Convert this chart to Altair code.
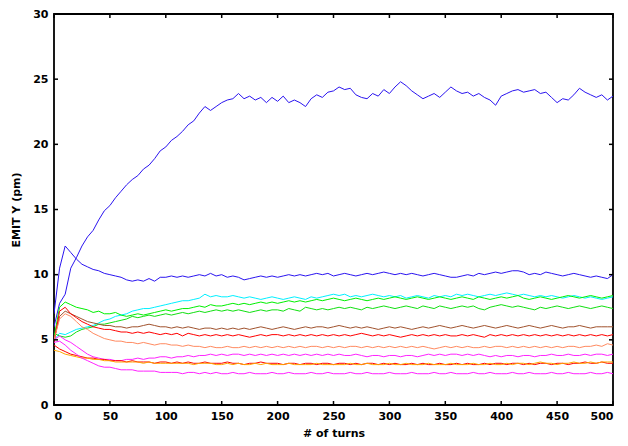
import altair as alt
import pandas as pd

turns = list(range(0, 501, 5))

blue_high = [6.0, 7.8, 8.5, 10.5, 11.3, 12.2, 12.9, 13.4, 14.2, 14.9,
             15.3, 15.9, 16.4, 16.9, 17.3, 17.6, 18.1, 18.4, 18.9, 19.5,
             19.8, 20.3, 20.6, 21.0, 21.5, 21.8, 22.4, 22.9, 22.6, 22.9,
             23.2, 23.4, 23.5, 23.9, 23.5, 23.7, 23.4, 23.6, 23.2, 23.6,
             23.3, 23.7, 23.2, 23.4, 23.2, 22.9, 23.5, 23.8, 23.6, 24.0,
             24.1, 24.4, 24.2, 24.3, 23.8, 23.6, 23.5, 23.9, 23.7, 24.2,
             23.9, 24.4, 24.8, 24.5, 24.1, 23.8, 23.5, 23.7, 23.9, 23.6,
             24.0, 24.4, 24.1, 23.9, 24.0, 23.7, 23.9, 23.6, 23.4, 23.0,
             23.7, 23.9, 24.1, 24.2, 24.0, 24.1, 24.2, 23.9, 24.0, 23.6,
             23.2, 23.5, 23.4, 23.8, 24.3, 24.0, 23.8, 23.6, 23.8, 23.4, 23.7]

blue_low = [7.0, 10.5, 12.2, 11.7, 11.2, 10.8, 10.6, 10.4, 10.3, 10.1,
            10.0, 9.9, 9.8, 9.6, 9.5, 9.6, 9.5, 9.7, 9.5, 9.8,
            9.8, 9.9, 9.8, 9.9, 9.8, 9.9, 10.0, 9.9, 10.1, 9.9,
            10.0, 9.8, 9.9, 9.8, 9.6, 9.7, 9.8, 9.9, 9.8, 9.9,
            9.8, 9.9, 10.0, 9.9, 10.0, 9.9, 10.0, 10.1, 10.0, 10.1,
            9.9, 10.0, 10.1, 10.0, 9.9, 10.0, 10.1, 10.0, 10.1, 10.2,
            10.1, 10.0, 10.1, 10.0, 10.1, 10.0, 9.9, 10.0, 10.1, 10.0,
            9.9, 9.8, 9.8, 9.9, 10.0, 9.9, 10.1, 10.0, 10.1, 10.2,
            10.1, 10.2, 10.3, 10.3, 10.2, 10.0, 10.1, 10.0, 10.2, 10.1,
            10.0, 9.9, 10.0, 10.1, 10.0, 9.9, 9.8, 9.9, 9.8, 9.7, 10.0]

cyan = [5.0, 5.5, 5.4, 5.6, 5.8, 5.9, 6.0, 6.1, 6.3, 6.5,
        6.6, 6.8, 6.9, 7.0, 7.2, 7.3, 7.4, 7.4, 7.5, 7.6,
        7.7, 7.8, 7.9, 8.0, 8.0, 8.1, 8.2, 8.5, 8.3, 8.4,
        8.3, 8.3, 8.4, 8.3, 8.2, 8.3, 8.2, 8.1, 8.2, 8.3,
        8.2, 8.1, 8.2, 8.3, 8.2, 8.1, 8.3, 8.2, 8.3, 8.4,
        8.5, 8.4, 8.5, 8.3, 8.4, 8.3, 8.4, 8.5, 8.4, 8.3,
        8.4, 8.3, 8.4, 8.2, 8.3, 8.4, 8.3, 8.2, 8.4, 8.3,
        8.4, 8.3, 8.5, 8.4, 8.5, 8.4, 8.3, 8.4, 8.5, 8.4,
        8.5, 8.6, 8.5, 8.4, 8.5, 8.4, 8.3, 8.4, 8.3, 8.4,
        8.3, 8.2, 8.3, 8.4, 8.3, 8.2, 8.3, 8.2, 8.1, 8.2, 8.3]

green_a = [5.2, 7.5, 7.9, 7.7, 7.5, 7.4, 7.3, 7.1, 7.2, 7.0,
           7.0, 7.1, 6.9, 6.8, 6.9, 7.0, 6.9, 7.0, 7.1, 7.2,
           7.3, 7.2, 7.3, 7.4, 7.4, 7.5, 7.6, 7.5, 7.7, 7.6,
           7.6, 7.7, 7.8, 7.7, 7.8, 7.7, 7.8, 7.9, 7.8, 7.9,
           7.8, 7.9, 8.0, 7.9, 8.0, 7.9, 8.0, 8.1, 8.0, 8.1,
           8.2, 8.1, 8.0, 8.1, 8.2, 8.1, 8.0, 8.1, 8.2, 8.1,
           8.2, 8.3, 8.2, 8.1, 8.2, 8.3, 8.2, 8.1, 8.2, 8.3,
           8.2, 8.1, 8.2, 8.3, 8.2, 8.1, 8.3, 8.2, 8.1, 8.2,
           8.3, 8.2, 8.3, 8.4, 8.2, 8.1, 8.2, 8.3, 8.2, 8.1,
           8.2, 8.3, 8.4, 8.3, 8.2, 8.3, 8.4, 8.3, 8.2, 8.3, 8.4]

green_b = [5.5, 5.3, 5.2, 5.3, 5.6, 5.8, 5.9, 6.0, 6.2, 6.2,
           6.3, 6.4, 6.5, 6.6, 6.8, 6.7, 6.8, 6.9, 6.8, 6.9,
           7.0, 6.9, 7.0, 7.1, 7.0, 7.1, 7.2, 7.1, 7.2, 7.3,
           7.2, 7.3, 7.2, 7.3, 7.2, 7.1, 7.2, 7.3, 7.2, 7.3,
           7.3, 7.2, 7.4, 7.3, 7.2, 7.5, 7.4, 7.3, 7.4, 7.3,
           7.4, 7.5, 7.4, 7.5, 7.4, 7.3, 7.5, 7.4, 7.5, 7.6,
           7.5, 7.4, 7.5, 7.6, 7.5, 7.4, 7.6, 7.5, 7.4, 7.6,
           7.5, 7.4, 7.5, 7.6, 7.5, 7.6, 7.4, 7.3, 7.5, 7.6,
           7.7, 7.6, 7.5, 7.6, 7.5, 7.4, 7.3, 7.5, 7.4, 7.5,
           7.6, 7.5, 7.4, 7.5, 7.6, 7.5, 7.4, 7.5, 7.6, 7.5, 7.4]

brown = [5.0, 6.8, 7.2, 7.0, 6.8, 6.6, 6.4, 6.3, 6.2, 6.1,
         6.1, 6.0, 6.0, 5.9, 6.0, 6.0, 6.1, 6.2, 6.1, 6.0,
         6.0, 5.9, 6.0, 5.9, 6.0, 5.9, 5.8, 5.9, 5.9, 5.8,
         5.9, 5.8, 5.9, 5.8, 5.9, 5.8, 5.9, 6.0, 5.9, 5.8,
         5.9, 6.0, 5.9, 5.8, 5.9, 6.0, 5.9, 6.0, 6.0, 5.9,
         6.0, 6.1, 6.0, 5.9, 6.0, 5.9, 6.0, 5.9, 5.8, 5.9,
         6.0, 5.9, 6.0, 5.9, 5.8, 5.9, 6.0, 5.9, 6.0, 6.1,
         6.0, 5.9, 6.0, 6.1, 6.0, 5.9, 6.0, 6.1, 6.0, 5.9,
         6.0, 6.1, 6.0, 5.9, 6.0, 6.1, 6.0, 5.9, 6.0, 6.1,
         6.0, 5.9, 6.0, 6.0, 6.1, 6.0, 5.9, 6.0, 6.0, 6.0, 6.0]

red_a = [4.8, 7.2, 7.5, 7.0, 6.7, 6.4, 6.2, 6.0, 5.9, 5.8,
         5.8, 5.7, 5.6, 5.6, 5.5, 5.6, 5.5, 5.6, 5.5, 5.4,
         5.5, 5.4, 5.5, 5.3, 5.5, 5.4, 5.3, 5.4, 5.3, 5.4,
         5.3, 5.4, 5.3, 5.4, 5.3, 5.2, 5.3, 5.4, 5.3, 5.4,
         5.4, 5.3, 5.4, 5.3, 5.4, 5.3, 5.4, 5.3, 5.4, 5.3,
         5.4, 5.3, 5.4, 5.3, 5.4, 5.5, 5.4, 5.3, 5.4, 5.3,
         5.4, 5.3, 5.2, 5.3, 5.4, 5.3, 5.4, 5.3, 5.4, 5.3,
         5.4, 5.3, 5.3, 5.4, 5.3, 5.4, 5.3, 5.2, 5.4, 5.3,
         5.4, 5.3, 5.4, 5.3, 5.4, 5.3, 5.4, 5.3, 5.4, 5.3,
         5.4, 5.3, 5.4, 5.3, 5.4, 5.3, 5.4, 5.3, 5.4, 5.3, 5.4]

salmon = [5.0, 6.6, 7.0, 6.8, 6.4, 6.0, 5.8, 5.5, 5.3, 5.1,
          5.0, 4.9, 4.9, 4.8, 4.8, 4.7, 4.8, 4.7, 4.6, 4.7,
          4.7, 4.6, 4.6, 4.5, 4.6, 4.5, 4.5, 4.4, 4.5, 4.4,
          4.4, 4.5, 4.4, 4.4, 4.5, 4.4, 4.5, 4.4, 4.5, 4.4,
          4.5, 4.4, 4.5, 4.4, 4.5, 4.4, 4.5, 4.5, 4.4, 4.5,
          4.4, 4.5, 4.4, 4.5, 4.5, 4.4, 4.5, 4.4, 4.5, 4.4,
          4.5, 4.4, 4.5, 4.4, 4.5, 4.4, 4.5, 4.4, 4.3, 4.4,
          4.5, 4.4, 4.5, 4.4, 4.5, 4.4, 4.4, 4.5, 4.4, 4.5,
          4.5, 4.4, 4.5, 4.4, 4.5, 4.4, 4.5, 4.4, 4.5, 4.4,
          4.5, 4.4, 4.5, 4.5, 4.4, 4.5, 4.5, 4.6, 4.5, 4.7, 4.6]

magenta_a = [5.0, 5.3, 5.0, 4.8, 4.5, 4.2, 3.9, 3.7, 3.6, 3.5,
             3.5, 3.4, 3.4, 3.5, 3.5, 3.6, 3.5, 3.6, 3.6, 3.7,
             3.7, 3.6, 3.7, 3.7, 3.8, 3.7, 3.8, 3.8, 3.9, 3.8,
             3.9, 3.8, 3.9, 3.9, 3.8, 3.9, 3.8, 3.9, 3.8, 3.9,
             3.8, 3.9, 3.8, 3.9, 3.8, 3.9, 3.8, 3.9, 3.8, 3.9,
             3.8, 3.9, 3.8, 3.8, 3.9, 3.8, 3.7, 3.8, 3.8, 3.7,
             3.8, 3.8, 3.7, 3.8, 3.8, 3.7, 3.8, 3.9, 3.8, 3.9,
             3.8, 3.9, 3.9, 3.8, 3.9, 3.8, 3.9, 3.8, 3.7, 3.8,
             3.7, 3.8, 3.8, 3.7, 3.8, 3.8, 3.7, 3.8, 3.8, 3.9,
             3.8, 3.8, 3.9, 3.8, 3.8, 3.9, 3.8, 3.9, 3.9, 3.8, 3.9]

red_b = [4.6, 4.3, 4.1, 3.9, 3.8, 3.7, 3.6, 3.6, 3.5, 3.5,
         3.4, 3.4, 3.4, 3.3, 3.4, 3.3, 3.3, 3.3, 3.2, 3.3,
         3.3, 3.2, 3.3, 3.2, 3.3, 3.2, 3.2, 3.3, 3.2, 3.2,
         3.2, 3.3, 3.2, 3.2, 3.1, 3.2, 3.2, 3.3, 3.2, 3.2,
         3.2, 3.1, 3.2, 3.2, 3.1, 3.2, 3.2, 3.1, 3.2, 3.2,
         3.1, 3.2, 3.2, 3.1, 3.2, 3.1, 3.2, 3.2, 3.1, 3.2,
         3.1, 3.2, 3.1, 3.1, 3.2, 3.1, 3.2, 3.1, 3.1, 3.2,
         3.1, 3.1, 3.2, 3.1, 3.2, 3.1, 3.1, 3.2, 3.1, 3.2,
         3.2, 3.1, 3.2, 3.2, 3.1, 3.2, 3.1, 3.2, 3.2, 3.1,
         3.2, 3.2, 3.1, 3.2, 3.2, 3.3, 3.2, 3.2, 3.3, 3.2, 3.2]

orange = [4.2, 4.1, 3.9, 3.8, 3.7, 3.6, 3.6, 3.5, 3.5, 3.4,
          3.4, 3.3, 3.3, 3.3, 3.3, 3.3, 3.2, 3.3, 3.2, 3.2,
          3.2, 3.2, 3.2, 3.2, 3.2, 3.1, 3.2, 3.2, 3.2, 3.1,
          3.1, 3.2, 3.1, 3.2, 3.1, 3.1, 3.2, 3.1, 3.2, 3.1,
          3.1, 3.1, 3.2, 3.1, 3.1, 3.1, 3.1, 3.2, 3.1, 3.1,
          3.1, 3.1, 3.1, 3.2, 3.1, 3.1, 3.2, 3.1, 3.1, 3.1,
          3.2, 3.1, 3.1, 3.2, 3.1, 3.1, 3.1, 3.2, 3.1, 3.1,
          3.1, 3.2, 3.1, 3.1, 3.1, 3.2, 3.1, 3.1, 3.2, 3.1,
          3.1, 3.2, 3.1, 3.2, 3.2, 3.1, 3.2, 3.3, 3.2, 3.2,
          3.1, 3.2, 3.2, 3.3, 3.2, 3.2, 3.3, 3.2, 3.3, 3.3, 3.3]

magenta_b = [4.8, 4.9, 4.6, 4.2, 3.9, 3.6, 3.4, 3.2, 3.0, 2.9,
             2.9, 2.8, 2.7, 2.7, 2.7, 2.6, 2.6, 2.6, 2.6, 2.5,
             2.5, 2.5, 2.5, 2.4, 2.5, 2.5, 2.4, 2.5, 2.4, 2.5,
             2.4, 2.4, 2.5, 2.4, 2.4, 2.5, 2.4, 2.4, 2.4, 2.5,
             2.4, 2.4, 2.5, 2.4, 2.4, 2.4, 2.5, 2.4, 2.4, 2.5,
             2.4, 2.4, 2.4, 2.5, 2.4, 2.4, 2.5, 2.4, 2.4, 2.4,
             2.5, 2.4, 2.4, 2.4, 2.5, 2.4, 2.4, 2.4, 2.5, 2.4,
             2.4, 2.5, 2.4, 2.4, 2.4, 2.5, 2.4, 2.4, 2.5, 2.4,
             2.4, 2.4, 2.5, 2.4, 2.4, 2.5, 2.4, 2.4, 2.4, 2.5,
             2.4, 2.4, 2.5, 2.4, 2.4, 2.4, 2.5, 2.4, 2.4, 2.5, 2.4]

series_names = ["blue_high", "blue_low", "cyan", "green_a", "green_b", "brown",
                "red_a", "salmon", "magenta_a", "red_b", "orange", "magenta_b"]
series_values = [blue_high, blue_low, cyan, green_a, green_b, brown,
                 red_a, salmon, magenta_a, red_b, orange, magenta_b]
series_colors = ["#2a14f0", "#2a14f0", "#00f0ff", "#00f000", "#10e010", "#a0522d",
                 "#ff0000", "#ff8a60", "#ff22ff", "#ff0000", "#ffa500", "#ff22ff"]

x_ticks = [0, 50, 100, 150, 200, 250, 300, 350, 400, 450, 500]
y_ticks = [0, 5, 10, 15, 20, 25, 30]

rows = []
for name, vals in zip(series_names, series_values):
    for t, v in zip(turns, vals):
        rows.append({"series": name, "turn": t, "emit": v})
df = pd.DataFrame(rows)

W, H = 559, 391
FONT = "DejaVu Sans"

xscale = alt.Scale(domain=[0, 500], nice=False, zero=False)
yscale = alt.Scale(domain=[0, 30], nice=False)

lines = alt.Chart(df).mark_line(strokeWidth=1, clip=True).encode(
    x=alt.X("turn:Q", scale=xscale, title="# of turns",
            axis=alt.Axis(values=x_ticks, ticks=False, domain=False, grid=False,
                          labelFont=FONT, labelFontSize=11, labelFontWeight="bold",
                          labelColor="black", labelPadding=5,
                          titleFont=FONT, titleFontSize=11, titleFontWeight="bold",
                          titleColor="black", titlePadding=6)),
    y=alt.Y("emit:Q", scale=yscale, title="EMIT Y (pm)",
            axis=alt.Axis(values=y_ticks, ticks=False, domain=False, grid=False,
                          labelFont=FONT, labelFontSize=11, labelFontWeight="bold",
                          labelColor="black", labelPadding=6,
                          titleFont=FONT, titleFontSize=11, titleFontWeight="bold",
                          titleColor="black", titlePadding=11)),
    color=alt.Color("series:N", scale=alt.Scale(domain=series_names, range=series_colors),
                    legend=None),
    detail="series:N",
)

xt = pd.DataFrame({"t": x_ticks})
yt = pd.DataFrame({"v": y_ticks})

xb = alt.Chart(xt).mark_rule(color="black", strokeWidth=1.5).encode(
    x=alt.X("t:Q", scale=xscale), y=alt.value(H), y2=alt.value(H - 4))
xtop = alt.Chart(xt).mark_rule(color="black", strokeWidth=1.5).encode(
    x=alt.X("t:Q", scale=xscale), y=alt.value(0), y2=alt.value(4))
yl = alt.Chart(yt).mark_rule(color="black", strokeWidth=1.5).encode(
    y=alt.Y("v:Q", scale=yscale), x=alt.value(0), x2=alt.value(4))
yr = alt.Chart(yt).mark_rule(color="black", strokeWidth=1.5).encode(
    y=alt.Y("v:Q", scale=yscale), x=alt.value(W), x2=alt.value(W - 4))

chart = alt.layer(lines, xb, xtop, yl, yr).properties(
    width=W, height=H,
    autosize=alt.AutoSizeParams(type="none"),
    padding={"left": 46, "top": 6, "right": 7, "bottom": 33},
    background="white",
).configure_view(stroke="black", strokeWidth=1.8)

chart.save("out.html", embed_options={"renderer": "svg", "actions": False})
